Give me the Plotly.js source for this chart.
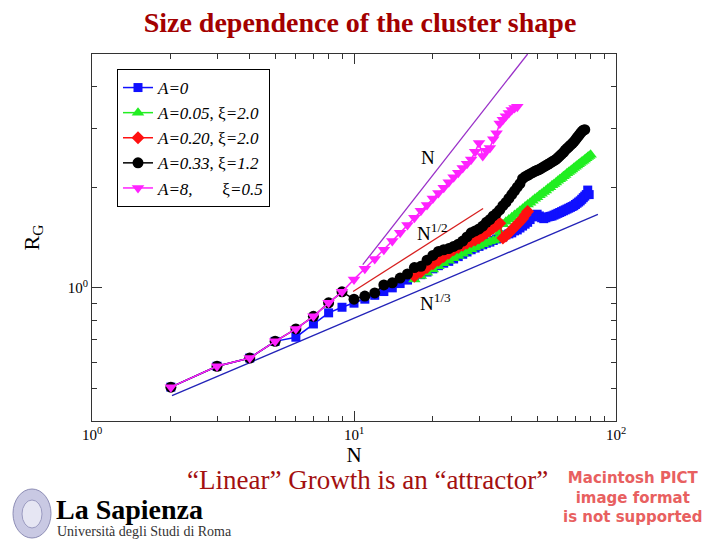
<!DOCTYPE html>
<html><head><meta charset="utf-8">
<script src="https://cdn.plot.ly/plotly-3.0.1.min.js"></script>
<style>html,body{margin:0;padding:0;background:#fff}#chart{width:720px;height:540px}</style>
</head><body><div id="chart"></div>
<script>
// ---------- data ----------
const seriesNames = [
  '<i>A=0</i>',
  '<i>A=0.05</i>, ξ<i>=2.0</i>',
  '<i>A=0.20</i>, ξ<i>=2.0</i>',
  '<i>A=0.33</i>, ξ<i>=1.2</i>',
  '<i>A=8,</i>\u00a0\u00a0\u00a0\u00a0\u00a0\u00a0 ξ<i>=0.5</i>'
];

const blueN = [2,3,4,5,6,7,8,9,10,11,12,13,14,15,16,17,18,19,20,21,22,23,24,25,26,27,28,29,30,31,32,33,34,35,36,37,38,39,40,41,42,43,44,45,46,47,48,49,50,51,52,53,54,55,56,57,58,59,60,61,62,63,64,65,66,67,68,69,70,71,72,73,74,75,76,77,78,79];
const blueR = [0.505,0.583,0.617,0.692,0.712,0.780,0.842,0.875,
  0.900,0.925,0.950,0.975,1.000,1.030,1.055,1.075,1.095,1.115,
  1.140,1.165,1.185,1.200,1.220,1.240,1.260,1.280,1.300,1.315,
  1.330,1.345,1.360,1.370,1.385,1.400,1.410,1.420,1.440,1.450,
  1.460,1.480,1.490,1.510,1.530,1.550,1.570,1.600,1.630,1.650,
  1.660,1.640,1.620,1.610,1.620,1.630,1.635,1.640,1.650,1.660,
  1.670,1.680,1.690,1.700,1.710,1.720,1.730,1.740,1.750,1.760,
  1.775,1.790,1.805,1.820,1.840,1.860,1.880,1.900,1.960,1.900];

const greenN = [17,18,19,20,21,22,23,24,25,26,27,28,29,30,31,32,33,34,35,36,37,38,39,40,41,42,43,44,45,46,47,48,49,50,51,52,53,54,55,56,57,58,59,60,61,62,63,64,65,66,67,68,69,70,71,72,73,74,75,76,77,78,79,80];
const greenR = [1.060,1.085,1.110,1.135,1.160,1.185,1.205,1.225,1.245,1.265,
  1.285,1.305,1.320,1.335,1.350,1.365,1.375,1.385,1.395,1.470,
  1.550,1.575,1.600,1.625,1.650,1.675,1.700,1.725,1.750,1.775,
  1.795,1.820,1.845,1.865,1.890,1.910,1.935,1.955,1.980,2.000,
  2.025,2.045,2.065,2.090,2.110,2.130,2.155,2.175,2.200,2.220,
  2.240,2.260,2.280,2.300,2.320,2.340,2.360,2.380,2.400,2.420,
  2.440,2.460,2.480,2.500];

const redN = [17,18,19,20,21,22,23,24,25,26,27,28,29,30,31,32,33,34,35,36,37,38,39,40,41,42,43,44,45,46];
const redR = [1.083,1.115,1.150,1.180,1.210,1.240,1.270,1.300,1.320,1.340,
  1.360,1.375,1.390,1.410,1.435,1.460,1.485,1.510,1.535,1.560,
  1.410,1.430,1.460,1.490,1.520,1.550,1.580,1.610,1.650,1.690];

const blackN = [2,3,4,5,6,7,8,9,10,11,12,13,14,15,16,17,18,19,20,21,22,23,24,25,26,27,28,29,30,31,32,33,34,35,36,37,38,39,40,41,42,43,44,45,46,47,48,49,50,51,52,53,54,55,56,57,58,59,60,61,62,63,64,65,66,67,68,69,70,71,72,73,74,75,76];
const blackR = [0.505,0.583,0.617,0.692,0.754,0.822,0.902,0.973,
  0.925,0.945,0.966,1.020,1.035,1.070,1.100,1.150,1.160,1.210,
  1.250,1.285,1.300,1.310,1.330,1.350,1.380,1.420,1.460,1.480,
  1.500,1.530,1.570,1.600,1.640,1.670,1.710,1.760,1.800,1.850,
  1.900,1.950,2.000,2.050,2.120,2.150,2.170,2.190,2.210,2.230,
  2.245,2.260,2.280,2.300,2.320,2.340,2.360,2.380,2.400,2.420,
  2.450,2.480,2.510,2.540,2.580,2.610,2.640,2.670,2.700,2.730,
  2.770,2.810,2.850,2.890,2.930,2.960,2.970];

const magentaN = [2,3,4,5,6,7,8,9,10,11,12,13,14,15,16,17,18,19,20,21,22,23,24,25,26,27,28,29,30,31,32,33,34,35,36,37,38,39,40,41,42];
const magentaR = [0.505,0.583,0.617,0.692,0.754,0.822,0.902,0.973,
  1.060,1.140,1.220,1.300,1.380,1.460,1.540,1.620,1.700,1.770,
  1.850,1.920,1.990,2.070,2.140,2.210,2.280,2.350,2.420,2.550,
  2.710,2.480,2.570,2.620,2.780,2.900,3.100,3.180,3.260,3.330,
  3.400,3.450,3.480];

// guide lines (end points)
const lineN_x = [10.8, 46.0],     lineN_y = [1.173, 5.0];
const lineHalf_x = [9.92, 31.1],  lineHalf_y = [0.975, 1.727];
const lineThird_x = [2.02, 85.3], lineThird_y = [0.476, 1.658];
const guideLabels = ['N', 'N<sup>1/2</sup>', 'N<sup>1/3</sup>'];

const xMajorVals = [1, 10, 100];
const xMajorText = ['10<sup>0</sup>', '10<sup>1</sup>', '10<sup>2</sup>'];
const xMinorVals = [2,3,4,5,6,7,8,9,20,30,40,50,60,70,80,90];
const yMajorVals = [1];
const yMajorText = ['10<sup>0</sup>'];
const yMinorVals = [0.5,0.6,0.7,0.8,0.9,2,3,4];

// ---------- build ----------
const SERIF = 'Liberation Serif, Times New Roman, serif';
const SANS = 'DejaVu Sans, Liberation Sans, Arial, sans-serif';

function series(x, y, name, color, symbol, size) {
  return {x: x, y: y, name: name, type: 'scatter', mode: 'lines+markers',
    line: {color: color, width: 1.5},
    marker: {color: color, symbol: symbol, size: size}};
}
function guide(x, y, color) {
  return {x: x, y: y, type: 'scatter', mode: 'lines', showlegend: false,
    line: {color: color, width: 1.3}, hoverinfo: 'skip'};
}

const data = [
  guide(lineThird_x, lineThird_y, '#2323b8'),
  guide(lineHalf_x, lineHalf_y, '#d82020'),
  guide(lineN_x, lineN_y, '#9a30c8'),
  series(blueN, blueR, seriesNames[0], '#1010ff', 'square', 9),
  series(greenN, greenR, seriesNames[1], '#22ee22', 'triangle-up', 11),
  series(redN, redR, seriesNames[2], '#ff1010', 'diamond', 10),
  series(blackN, blackR, seriesNames[3], '#000000', 'circle', 11),
  series(magentaN, magentaR, seriesNames[4], '#ff22ff', 'triangle-down', 11)
];

function px2paperX(p) { return (p - 92) / 524; }
function px2paperY(p) { return (421 - p) / 367; }

function note(text, px, py, font, xanchor) {
  return {text: text, x: px2paperX(px), y: px2paperY(py), xref: 'paper', yref: 'paper',
    xanchor: xanchor || 'center', yanchor: 'middle', showarrow: false, font: font};
}

const guideFont = {family: SERIF, size: 19, color: '#000'};
const macFont = {family: SANS, size: 15, color: '#e86060'};

const annotations = [
  note(guideLabels[0], 428, 157, guideFont),
  note(guideLabels[1], 432, 232, guideFont),
  note(guideLabels[2], 435, 302, guideFont),
  note('“Linear” Growth is an “attractor”', 367, 480, {family: SERIF, size: 27, color: '#a31010'}),
  note('<b>Macintosh PICT<br>image format<br>is not supported</b>', 633, 497, macFont),
  note('<b>La Sapienza</b>', 54, 510, {family: SERIF, size: 28, color: '#000'}, 'left'),
  note('Università degli Studi di Roma', 55, 531, {family: SERIF, size: 14, color: '#333'}, 'left')
];

const shapes = [
  {type: 'circle', xref: 'paper', yref: 'paper', x0: px2paperX(13), x1: px2paperX(51), y0: px2paperY(538), y1: px2paperY(489),
   fillcolor: '#c9c9e3', line: {color: '#8d8db5', width: 1}},
  {type: 'circle', xref: 'paper', yref: 'paper', x0: px2paperX(22), x1: px2paperX(42), y0: px2paperY(528), y1: px2paperY(500),
   fillcolor: '#e6e6f3', line: {color: '#9a9ac0', width: 1}}
];

const axisCommon = {
  type: 'log', tickmode: 'array', ticks: 'inside', ticklen: 10, tickwidth: 1, tickcolor: '#333',
  showline: true, linecolor: '#333', linewidth: 1, mirror: 'allticks',
  showgrid: false, zeroline: false, tickfont: {family: SERIF, size: 15, color: '#000'}
};

const layout = {
  width: 720, height: 540,
  margin: {l: 92, r: 104, t: 54, b: 119},
  paper_bgcolor: '#fff', plot_bgcolor: '#fff',
  font: {family: SERIF, color: '#000'},
  title: {text: '<b>Size dependence of the cluster shape</b>', x: 0.5, xref: 'container', xanchor: 'center',
          y: 1 - 22 / 540, yref: 'container', yanchor: 'middle',
          font: {family: SERIF, size: 28, color: '#a30000'}},
  xaxis: Object.assign({}, axisCommon, {
    range: [0, 2], tickvals: xMajorVals, ticktext: xMajorText,
    minor: {tickmode: 'array', tickvals: xMinorVals, ticks: 'inside', ticklen: 5, tickcolor: '#333', showgrid: false},
    title: {text: 'N', font: {family: SERIF, size: 21}, standoff: 0}
  }),
  yaxis: Object.assign({}, axisCommon, {
    range: [Math.log10(0.4), Math.log10(5)], tickvals: yMajorVals, ticktext: yMajorText,
    minor: {tickmode: 'array', tickvals: yMinorVals, ticks: 'inside', ticklen: 5, tickcolor: '#333', showgrid: false},
    title: {text: 'R<sub>G</sub>', font: {family: SERIF, size: 22}, standoff: 22}
  }),
  legend: {x: px2paperX(117), y: px2paperY(69), xanchor: 'left', yanchor: 'top',
    bgcolor: '#fff', bordercolor: '#000', borderwidth: 1,
    font: {family: SERIF, size: 17, color: '#000'}, tracegroupgap: 0, itemwidth: 30},
  annotations: annotations,
  shapes: shapes,
  showlegend: true
};

Plotly.newPlot('chart', data, layout, {staticPlot: true, displayModeBar: false});
</script></body></html>
